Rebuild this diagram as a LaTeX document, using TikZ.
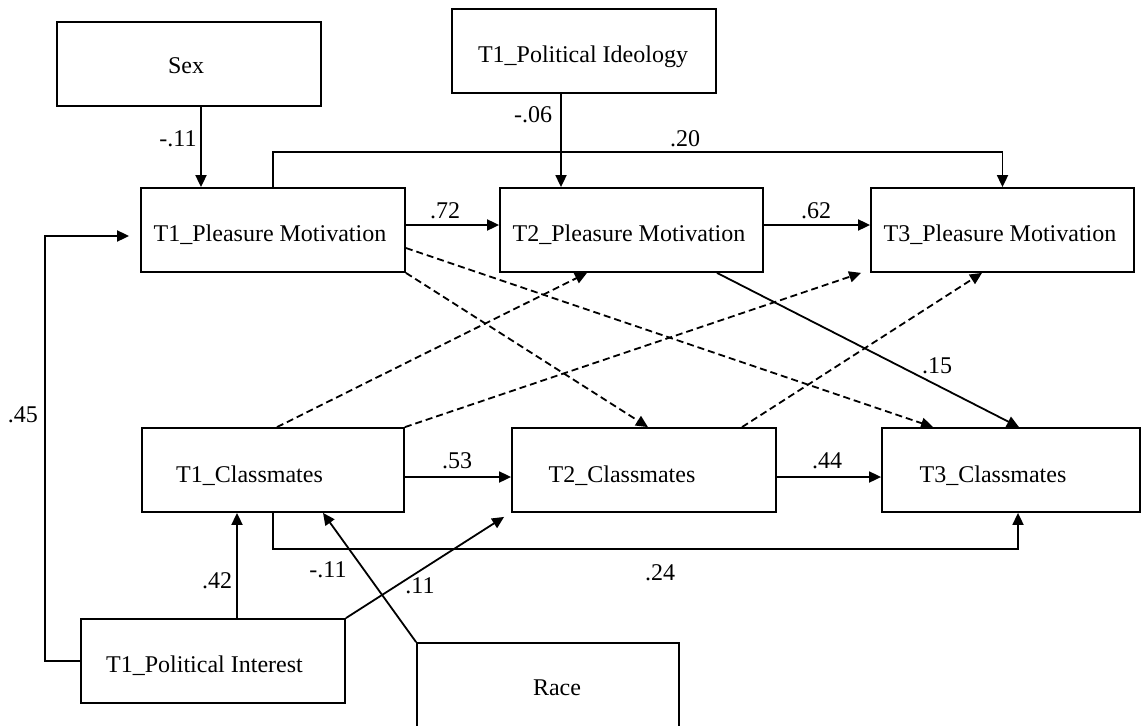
\documentclass[tikz,border=0pt]{standalone}
\usepackage{fontspec}
\setmainfont{Liberation Serif}
\usetikzlibrary{arrows.meta}
\begin{document}
\begin{tikzpicture}[x=1pt,y=-1pt,
  box/.style={draw, line width=1.8pt, minimum height=84pt, inner sep=0pt},
  txt/.style={font=\fontsize{24}{28}\selectfont, anchor=base, inner sep=0pt},
  arr/.style={line width=1.8pt, -{Triangle[length=12pt,width=11pt]}},
  darr/.style={arr, dash pattern=on 7pt off 4pt},
  plain/.style={line width=1.8pt}]
\useasboundingbox (0,0) rectangle (1142,725);

% variable boxes
\node[box, minimum width=264pt] (sex)  at (189,64)    {};
\node[box, minimum width=264pt] (ideo) at (584,51)    {};
\node[box, minimum width=264pt] (t1pm) at (273,230)   {};
\node[box, minimum width=263pt] (t2pm) at (631.5,230) {};
\node[box, minimum width=263pt] (t3pm) at (1002.5,230){};
\node[box, minimum width=262pt] (t1c)  at (273,470)   {};
\node[box, minimum width=264pt] (t2c)  at (644,470)   {};
\node[box, minimum width=258pt] (t3c)  at (1011,470)  {};
\node[box, minimum width=264pt] (t1pi) at (213,661)   {};
\node[box, minimum width=262pt, minimum height=85pt] (race) at (548,685.5) {};

% box captions
\node[txt] (sexT)  at (186,74)  {Sex};
\node[txt] (ideoT) at (583,63)  {T1\_Political Ideology};
\node[txt] (t1pmT) at (270,241) {T1\_Pleasure Motivation};
\node[txt] (t2pmT) at (629,241) {T2\_Pleasure Motivation};
\node[txt] (t3pmT) at (1000,241){T3\_Pleasure Motivation};
\node[txt] (t1cT)  at (249.5,482) {T1\_Classmates};
\node[txt] (t2cT)  at (622,482) {T2\_Classmates};
\node[txt] (t3cT)  at (993,482) {T3\_Classmates};
\node[txt] (t1piT) at (204.5,672) {T1\_Political Interest};
\node[txt] (raceT) at (557,695) {Race};

% solid paths
\draw[arr] ([xshift=12pt]sex.south) -- ([xshift=-72pt]t1pm.north);
\draw[arr] ([xshift=-23pt]ideo.south) -- ([xshift=-70.5pt]t2pm.north);
\draw[arr] (t1pm.north) -- ++(0,-35) -| (t3pm.north);
\draw[arr] ([yshift=5pt]t1pm.east) -- ([yshift=5pt]t2pm.west);
\draw[arr] ([yshift=5pt]t2pm.east) -- ([yshift=5pt]t3pm.west);
\draw[arr] ([yshift=-7pt]t1c.east) -- ([yshift=-7pt]t2c.west);
\draw[arr] ([yshift=-7pt]t2c.east) -- ([yshift=-7pt]t3c.west);
\draw[arr] ([xshift=85.5pt]t2pm.south) -- ([xshift=8pt]t3c.north);
\draw[arr] ([xshift=24pt]t1pi.north) -- ([xshift=-36pt]t1c.south);
\draw[arr] (t1c.south) -- ++(0,36) -| ([xshift=7pt]t3c.south);
\draw[arr] (t1pi.west) -- ++(-35,0) |- ([xshift=-11pt,yshift=-6pt]t1pm.west);
\draw[arr] (race.north west) -- ([xshift=50pt]t1c.south);
\draw[arr] (t1pi.north east) -- ([xshift=-7pt,yshift=-4pt]t2c.south west);

% dashed paths
\draw[darr] ([yshift=-18pt]t1pm.east) -- ([xshift=-78pt]t3c.north);
\draw[darr] (t1pm.south east) -- ([xshift=4pt]t2c.north);
\draw[darr] ([xshift=4pt]t1c.north) -- ([xshift=-44.5pt]t2pm.south);
\draw[darr] (t1c.north east) -- ([xshift=-9pt]t3pm.south west);
\draw[darr] ([xshift=98pt]t2c.north) -- ([xshift=-20.5pt]t3pm.south);

% path coefficients
\node[txt] (c1)  at (178,146) {-.11};
\node[txt] (c2)  at (533,122) {-.06};
\node[txt] (c3)  at (685,146) {.20};
\node[txt] (c4)  at (445,218) {.72};
\node[txt] (c5)  at (816,218) {.62};
\node[txt] (c6)  at (937,373) {.15};
\node[txt] (c7)  at (457,468) {.53};
\node[txt] (c8)  at (827,468) {.44};
\node[txt] (c9)  at (217,588) {.42};
\node[txt] (c10) at (328,577) {-.11};
\node[txt] (c11) at (420,593) {.11};
\node[txt] (c12) at (660,580) {.24};
\node[txt] (c13) at (23,422)  {.45};
\end{tikzpicture}
\end{document}
